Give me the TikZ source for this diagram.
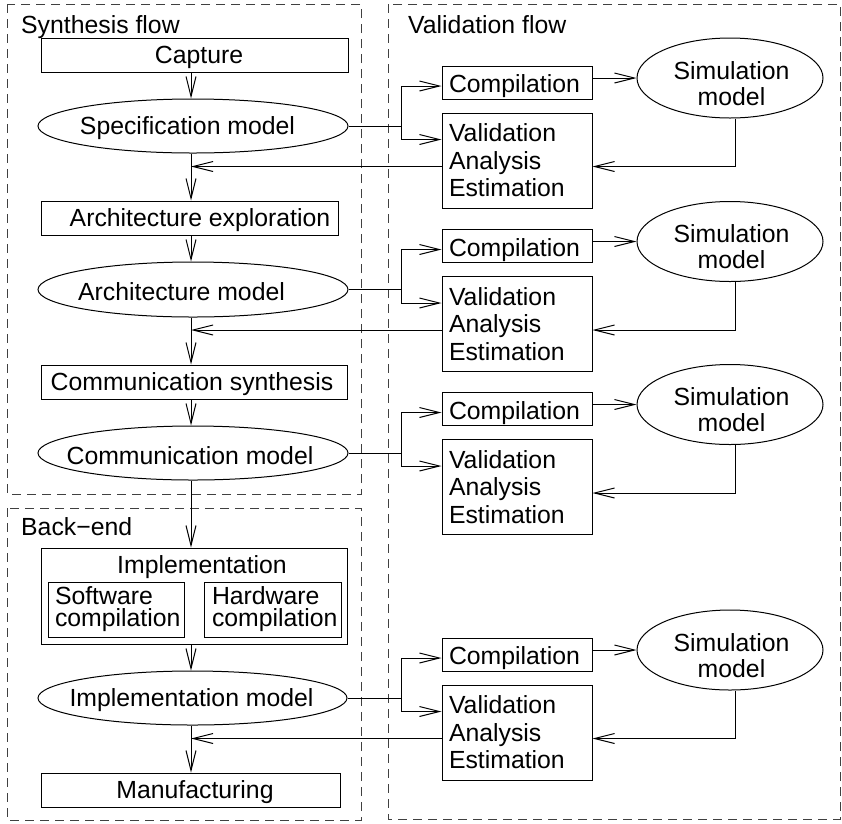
\documentclass[tikz,border=0pt]{standalone}
\usepackage{fontspec}
\setmainfont{Liberation Sans}
\usetikzlibrary{arrows.meta,calc,shapes.geometric}
\newcommand\ctr[2]{\makebox[0pt]{\hspace*{#1}\raisebox{-2.5pt}[\height][\depth]{#2}}}
\newcommand\lowr[2]{\raisebox{-#1}[\height][\depth]{#2}}
\begin{document}
\begin{tikzpicture}[x=1pt,y=-1pt,
  every node/.style={font=\fontsize{24.8}{27.5}\selectfont, inner sep=0pt},
  box/.style={draw, line width=1pt, rectangle},
  oval/.style={draw, line width=1pt, ellipse},
  con/.style={line width=1pt},
  arr/.style={line width=1pt, -{Straight Barb[length=20pt,width=10pt]}},
  frame/.style={draw=black!75, line width=1pt, dash pattern=on 9pt off 6pt},
  lbl/.style={anchor=base west},
  lefttext/.style={align=left, text width=#1},
]
\useasboundingbox (0,0) rectangle (842,823);
% frames
\draw[frame] (7,4) rectangle (361,494);
\draw[frame] (388,4) rectangle (840,819);
\draw[frame] (7,508) rectangle (361,820);
\node[lbl] (synlbl) at (21,33) {Synthesis flow};
\node[lbl] (vallbl) at (408,33) {Validation flow};
\node[lbl] (belbl) at (21,535) {Back−end};
% synthesis column
\node[box, minimum width=307, minimum height=34] (capture) at (194.5,55) {\ctr{9pt}{Capture}};
\node[oval, minimum width=310, minimum height=54] (spec) at (193,126) {\ctr{-11pt}{Specification model}};
\node[box, minimum width=297, minimum height=34] (archex) at (189.5,218) {\ctr{21pt}{Architecture exploration}};
\node[oval, minimum width=310, minimum height=55] (archmod) at (193,289.5) {\ctr{-23pt}{Architecture model}};
\node[box, minimum width=306, minimum height=34] (commsyn) at (194,382) {\ctr{-4pt}{Communication synthesis}};
\node[oval, minimum width=310, minimum height=54] (commmod) at (193,453) {\ctr{-6pt}{Communication model}};
\node[box, minimum width=306, minimum height=96] (impl) at (194,596) {};
\node[anchor=base] (impltitle) at (202,573) {Implementation};
\node[box, minimum width=136, minimum height=55, inner xsep=7pt, lefttext=122pt,
      font=\fontsize{24.8}{22}\selectfont] (sw) at (116,609.5) {Software\\compilation};
\node[box, minimum width=137, minimum height=55, inner xsep=8pt, lefttext=121pt,
      font=\fontsize{24.8}{22}\selectfont] (hw) at (272.5,609.5) {Hardware\\compilation};
\node[oval, minimum width=309, minimum height=54] (implmod) at (192.5,698) {\ctr{-2pt}{Implementation model}};
\node[box, minimum width=299, minimum height=34] (manuf) at (190.5,790) {\ctr{9pt}{Manufacturing}};
\coordinate (m) at (191,0);
\coordinate (b) at (401,0);
\foreach \a/\bb in {capture/spec, spec/archex, archex/archmod, archmod/commsyn,
                    commsyn/commmod, commmod/impl, impl/implmod, implmod/manuf}
  \draw[arr] (\a.south -| m) -- (\bb.north -| m);
% validation column
\foreach \r/\d/\mo in {1/0/spec, 2/163.5/archmod, 3/326.5/commmod, 4/572/implmod} {
  \node[box, minimum width=150, minimum height=33, inner xsep=7pt, lefttext=136pt] (c\r) at (517,{82.5+\d}) {\lowr{4pt}{Compilation}};
  \node[box, minimum width=150, minimum height=95, inner xsep=7pt, lefttext=136pt] (v\r) at (517,{160.5+\d}) {Validation\\Analysis\\Estimation};
  \node[oval, minimum width=186, minimum height=80, font=\fontsize{24.8}{26}\selectfont] (s\r) at (730,{78+\d})
     {\makebox[0pt]{\hspace*{3pt}\lowr{9pt}{\begin{tabular}{@{}c@{}}Simulation\\model\end{tabular}}}};
  \draw[con] (\mo.east) -- (\mo.east -| b);
  \draw[arr] (\mo.east -| b) |- ($(c\r.west)+(0,3.5)$);
  \draw[arr] (\mo.east -| b) |- ($(v\r.north west)+(0,27)$);
  \draw[arr] (c\r.east |- s\r.west) -- (s\r.west);
  \draw[arr] ($(s\r.south)+(5,0)$) |- ($(v\r.north east)+(0,54)$);
}
\foreach \r in {1,2,4} {
  \coordinate (f\r) at ($(v\r.north west)+(0,54)$);
  \draw[arr] (f\r) -- (f\r -| m);
}
\end{tikzpicture}
\end{document}
